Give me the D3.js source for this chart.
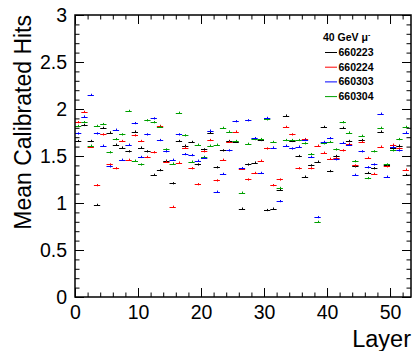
<!DOCTYPE html>
<html><head><meta charset="utf-8">
<script src="https://cdn.jsdelivr.net/npm/d3@7"></script>
<style>body{margin:0;background:#fff}svg{display:block}</style>
</head><body>
<script>
const layers = d3.range(0, 53);
const run660223 = [1.66,1.83,1.66,0.98,1.80,1.75,1.62,1.59,1.55,1.76,1.59,1.55,1.30,1.35,1.45,1.21,1.66,1.61,1.65,1.41,1.57,1.75,1.38,1.56,1.66,1.65,0.94,1.41,1.43,1.67,0.925,0.94,1.14,1.93,1.66,1.50,1.28,1.40,1.44,1.81,1.34,1.50,1.80,1.66,1.39,1.67,1.32,1.37,1.76,1.40,1.58,1.61,1.30];
const run660224 = [1.86,1.97,1.60,1.19,1.73,1.41,1.37,1.66,1.46,1.72,1.66,1.49,1.54,1.82,1.44,0.96,1.43,1.59,1.37,1.20,1.55,1.67,1.24,1.46,1.65,1.76,1.365,1.25,1.32,1.45,1.58,1.19,1.25,1.81,1.73,1.37,1.68,1.37,1.61,1.535,1.47,1.48,1.56,1.63,1.40,1.65,1.48,1.31,1.60,1.39,1.62,1.58,1.355];
const run660303 = [1.74,1.92,2.15,1.74,1.61,1.39,1.78,1.46,1.62,1.85,1.49,1.73,1.90,1.67,1.55,1.46,1.73,1.52,1.51,1.45,1.48,1.77,1.12,1.31,1.56,1.87,1.37,1.88,1.69,1.32,1.905,1.59,1.02,1.61,1.58,1.60,1.67,1.49,0.85,1.65,1.69,1.465,1.64,1.62,1.30,1.55,1.38,1.41,1.95,1.28,1.60,1.56,1.75];
const run660304 = [1.82,1.86,1.61,1.82,1.84,1.54,1.68,1.73,1.98,1.45,1.41,1.88,1.86,1.81,1.57,1.42,1.96,1.72,1.44,1.62,1.49,1.61,1.62,1.80,1.76,1.66,1.11,1.63,1.68,1.68,1.89,1.65,1.16,1.67,1.67,1.67,1.635,1.52,0.80,1.635,1.65,1.57,1.86,1.75,1.445,1.715,1.265,1.55,1.80,1.41,1.56,1.68,1.81];
const statError = 0.012;
const seriesNames = ["660223","660224","660303","660304"];
const seriesColors = ["#000000","#ff0000","#0000ff","#00a000"];
const seriesValues = [run660223, run660224, run660303, run660304];
const xTicks = [0,10,20,30,40,50];
const yTicks = [0,0.5,1,1.5,2,2.5,3];
const legendTitle = "40 GeV \u03bc";
const xTitle = "Layer", yTitle = "Mean Calibrated Hits";

const W = 414, H = 351;
const L = 75, R = 411, T = 15, B = 297;
const svg = d3.select("body").append("svg").attr("width", W).attr("height", H)
  .style("font-family", "'Liberation Sans', Arial, sans-serif");
const x = d3.scaleLinear().domain([0, 53.33]).range([L, R]);
const y = d3.scaleLinear().domain([0, 3]).range([B, T]);

// data marks
const order = [0,1,3,2];
order.forEach(si => {
  const g = svg.append("g").attr("stroke", seriesColors[si]).attr("stroke-width", 1).attr("fill", "none");
  seriesValues[si].forEach((v, i) => {
    const l = layers[i];
    const yy = Math.round(y(v)) + 0.5;
    g.append("line").attr("x1", x(l)).attr("x2", Math.min(x(l + 1), R)).attr("y1", yy).attr("y2", yy);
    const xc = Math.round(x(l + 0.5)) + 0.5;
    g.append("line").attr("x1", xc).attr("x2", xc).attr("y1", y(v - statError)).attr("y2", y(v + statError));
  });
});

// axes (ROOT style, ticks inside, on all sides)
const xMinor = d3.range(0, 53.33, 2);
const yMinor = d3.range(0, 3.001, 0.1);
function styleAxis(g){ g.select(".domain").remove(); g.selectAll("line").attr("stroke","#000").attr("stroke-width",1); }
svg.append("g").attr("transform",`translate(0,${B})`).call(d3.axisBottom(x).tickValues(xMinor).tickSize(-4.5).tickFormat("")).call(styleAxis);
svg.append("g").attr("transform",`translate(0,${B})`).call(d3.axisBottom(x).tickValues(xTicks).tickSize(-9).tickPadding(8).tickFormat(d3.format("d"))).call(styleAxis)
  .selectAll("text").attr("font-size", 19.5).attr("fill","#000").attr("font-family","'Liberation Sans', Arial, sans-serif");
svg.append("g").attr("transform",`translate(0,${T})`).call(d3.axisTop(x).tickValues(xMinor).tickSize(-4.5).tickFormat("")).call(styleAxis);
svg.append("g").attr("transform",`translate(0,${T})`).call(d3.axisTop(x).tickValues(xTicks).tickSize(-9).tickFormat("")).call(styleAxis);
svg.append("g").attr("transform",`translate(${L},0)`).call(d3.axisLeft(y).tickValues(yMinor).tickSize(-4.5).tickFormat("")).call(styleAxis);
svg.append("g").attr("transform",`translate(${L},0)`).call(d3.axisLeft(y).tickValues(yTicks).tickSize(-9).tickPadding(8).tickFormat(d => String(d))).call(styleAxis)
  .selectAll("text").attr("font-size", 19.5).attr("fill","#000").attr("font-family","'Liberation Sans', Arial, sans-serif");
svg.append("g").attr("transform",`translate(${R},0)`).call(d3.axisRight(y).tickValues(yMinor).tickSize(-4.5).tickFormat("")).call(styleAxis);
svg.append("g").attr("transform",`translate(${R},0)`).call(d3.axisRight(y).tickValues(yTicks).tickSize(-9).tickFormat("")).call(styleAxis);
svg.append("rect").attr("x",L).attr("y",T).attr("width",R-L).attr("height",B-T).attr("fill","none").attr("stroke","#000").attr("stroke-width",1.5);

// titles
svg.append("text").attr("x", R).attr("y", 347).attr("text-anchor","end").attr("font-size",23.5).text(xTitle);
svg.append("text").attr("transform",`translate(31,${T}) rotate(-90)`).attr("text-anchor","end").attr("font-size",23).text(yTitle);

// legend
const lg = svg.append("g").attr("font-weight","bold").attr("font-size",10.5);
const lt = lg.append("text").attr("x",323).attr("y",41);
lt.append("tspan").text(legendTitle);
lt.append("tspan").attr("dy",-4).attr("font-size",7).text("-");
seriesNames.forEach((n, i) => {
  const by = 56 + i * 14.7;
  lg.append("line").attr("x1",325).attr("x2",337).attr("y1",by-3.5).attr("y2",by-3.5).attr("stroke",seriesColors[i]).attr("stroke-width",1);
  lg.append("text").attr("x",338.5).attr("y",by).text(n);
});
</script>
</body></html>
